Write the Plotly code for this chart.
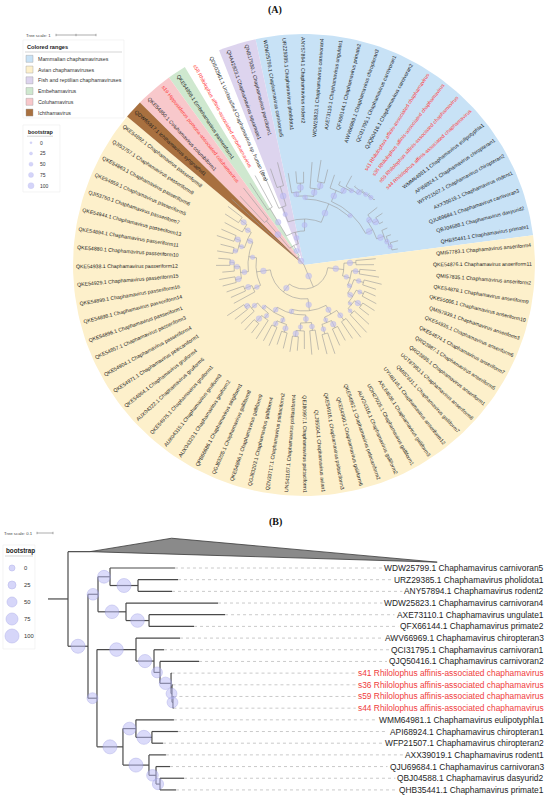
import numpy as np
import plotly.graph_objects as go

W, H = 550, 801
FONT = "Liberation Sans, Arial, sans-serif"

# ---------------- panel A tips, clockwise from the first avian tip ----------------
avian = [
    "QMI57783.1 Chaphamavirus anseriform4", "QKE54876.1 Chaphamavirus anseriform11",
    "QMI57835.1 Chaphamavirus anseriform2", "QKE54878.1 Chaphamavirus anseriform9",
    "QKE55006.1 Chaphamavirus anseriform10", "QMI57839.1 Chaphamavirus anseriform3",
    "QKE54935.1 Chaphamavirus anseriform6", "QKE54874.1 Chaphamavirus anseriform7",
    "QRI23887.1 Chaphamavirus anseriform5", "QRI23885.1 Chaphamavirus anseriform1",
    "UGT87963.1 Chaphamavirus anseriform8", "QMI57831.1 Chaphamavirus galliform7",
    "UYI48146.1 Chaphamavirus anseriform12", "AXL64606.1 Chaphamavirus galliform3",
    "UOH27026.1 Chaphamavirus galliform1", "AUV24316.1 Chaphamavirus galliform2",
    "QKE54962.1 Chaphamavirus pelecaniform2", "QKE54900.1 Chaphamavirus galliform6",
    "QKE54916.1 Chaphamavirus psittaciform3", "QLJ85504.1 Chaphamavirus avian1",
    "QEJ80997.1 Chaphamavirus psittaciform1", "UNS41167.1 Chaphamavirus psittaciform4",
    "QZN33717.1 Chaphamavirus psittaciform2", "QGJ83203.1 Chaphamavirus galliform4",
    "QKE54866.1 Chaphamavirus galliform9", "QGJ83205.1 Chaphamavirus galliform8",
    "QPB66686.1 Chaphamavirus strigiform1", "AUX04320.1 Chaphamavirus gruiform2",
    "AUX04315.1 Chaphamavirus gruiform3", "QKE54975.1 Chaphamavirus gruiform1",
    "AUX04322.1 Chaphamavirus gruiform6", "QKE54864.1 Chaphamavirus gruiform4",
    "QKE54971.1 Chaphamavirus pelecaniform1", "QKE54904.1 Chaphamavirus passeriform4",
    "QKE54857.1 Chaphamavirus passeriform3", "QKE54896.1 Chaphamavirus passeriform1",
    "QKE54898.1 Chaphamavirus passeriform14", "QKE54899.1 Chaphamavirus passeriform16",
    "QKE54929.1 Chaphamavirus passeriform15", "QKE54938.1 Chaphamavirus passeriform12",
    "QKE54880.1 Chaphamavirus passeriform10", "QKE54894.1 Chaphamavirus passeriform11",
    "QKE54944.1 Chaphamavirus passeriform13", "QJI53750.1 Chaphamavirus passeriform7",
    "QKE54859.1 Chaphamavirus passeriform5", "QKE54863.1 Chaphamavirus passeriform6",
    "QJI53757.1 Chaphamavirus passeriform9", "QKE54892.1 Chaphamavirus passeriform8",
]
ichthama = ["QDW65917.1 Ichthamavirus syngnathid1"]
coluhama = ["QKE54850.1 Coluhamavirus columbiform1",
            "s19 Hipposideros pomona-associated coluhamavirus"]
embehama = ["QKE54958.1 Embehamavirus passeriform1"]
unclassified = ["s58 Rhilolophus affinis-associated embehamavirus",
                "QDS02961.1 Unclassified Chaphamavirus sp. human (Bra)"]
fish_reptile = ["QHA42923.1 Chaphamavirus squamate1",
                "QNB17930.1 Chaphamavirus perciform1"]
mammal = [
    "WDW25799.1 Chaphamavirus carnivoran5", "URZ29385.1 Chaphamavirus pholidota1",
    "ANY57894.1 Chaphamavirus rodent2", "WDW25823.1 Chaphamavirus carnivoran4",
    "AXE73110.1 Chaphamavirus ungulate1", "QFX66144.1 Chaphamavirus primate2",
    "AWV66969.1 Chaphamavirus chiropteran3", "QCI31795.1 Chaphamavirus carnivoran1",
    "QJQ50416.1 Chaphamavirus carnivoran2",
    "s41 Rhilolophus affinis-associated chaphamavirus",
    "s36 Rhilolophus affinis-associated chaphamavirus",
    "s59 Rhilolophus affinis-associated chaphamavirus",
    "s44 Rhilolophus affinis-associated chaphamavirus",
    "WMM64981.1 Chaphamavirus eulipotyphla1", "API68924.1 Chaphamavirus chiropteran1",
    "WFP21507.1 Chaphamavirus chiropteran2", "AXX39019.1 Chaphamavirus rodent1",
    "QJU69684.1 Chaphamavirus carnivoran3", "QBJ04588.1 Chaphamavirus dasyurid2",
    "QHB35441.1 Chaphamavirus primate1",
]
new_seqs = [s for s in mammal + coluhama + unclassified if s.startswith("s")]

range_names = ["Mammalian chaphamaviruses", "Avian chaphamaviruses",
               "Fish and reptilian chaphamaviruses", "Embehamavirus",
               "Coluhamavirus", "Ichthamavirus"]
range_colors = ["#c8e2f6", "#fdf0cb", "#ddd4ee", "#cfe8cf", "#f8c8cb", "#a8703f"]
range_members = [mammal, avian, fish_reptile, embehama, coluhama, ichthama]
bootstrap_legend = [0, 25, 50, 75, 100]

# tree A: tips are indexes into tips_a, node labels are bootstrap values
ANSER = ("((0:0.5,1:0.45)90:0.3,((2:0.4,3:0.5)80:0.2,((4:0.45,5:0.35)70:0.25,((6:0.3,7:0.4)60:0.2,"
         "((8:0.35,9:0.3)90:0.2,(10:0.5,11:0.6)50:0.15)40:0.1)80:0.15)60:0.1)70:0.2)95:0.4")
GALLI = ("(((12:0.6,13:0.5)80:0.3,((14:0.4,15:0.45)90:0.2,(16:0.55,17:0.5)70:0.25)60:0.15)85:0.25,"
         "(((18:0.5,19:0.6)75:0.2,(20:0.45,(21:0.35,22:0.4)90:0.15)60:0.2)80:0.2,"
         "(((23:0.4,24:0.35)85:0.2,(25:0.5,26:0.45)70:0.15)65:0.15,"
         "((27:0.55,(28:0.3,29:0.35)95:0.2)60:0.15,(30:0.45,(31:0.4,32:0.5)80:0.1)70:0.2)55:0.1)75:0.15)70:0.1)90:0.3")
PASSER = ("((33:0.6,(34:0.4,35:0.45)85:0.2)70:0.2,(((36:0.35,37:0.4)90:0.15,(38:0.3,(39:0.35,40:0.3)80:0.1)75:0.15)80:0.2,"
          "(((41:0.4,42:0.35)70:0.1,(43:0.45,44:0.4)85:0.15)60:0.15,(45:0.5,(46:0.4,47:0.45)90:0.2)75:0.2)80:0.15)65:0.2)95:0.35")
MAMMAL_A = ("(((56:0.5,(57:0.3,58:0.28)100:0.22)85:0.1,(59:0.65,(60:0.55,61:0.35)95:0.18)95:0.2)70:0.08,"
            "((62:0.35,(63:0.1,(64:0.3,(65:0.03,(66:0.03,(67:0.03,68:0.03)60:0.03)60:0.03)80:0.1)60:0.05)90:0.15)95:0.3,"
            "((69:0.3,(70:0.2,71:0.1)100:0.12)85:0.1,(72:0.15,(73:0.12,(74:0.2,75:0.15)65:0.05)70:0.05)100:0.2)100:0.2)60:0.08)100:0.5")
OTHERS = ("(48:2.2,((49:0.9,50:1.0)100:0.9,((51:0.8,52:0.9)90:0.8,((53:1.0,(54:0.5,55:0.6)100:0.5)60:0.4,"
          + MAMMAL_A + ")80:0.3)70:0.3)85:0.3)100:0.25")
TREE_A = "((" + ANSER + ",(" + GALLI + "," + PASSER + ")90:0.25)100:0.6," + OTHERS + ");"

# tree B: mammalian clade, C = collapsed remainder of the tree
TREE_B = ("(C:0.1375,((((0:0.406,(1:0.25,2:0.2125)100:0.175)85:0.075,"
          "(3:0.575,(4:0.475,5:0.281)95:0.144)95:0.175)70:0.0625,"
          "((6:0.275,(7:0.0625,(8:0.244,(9:0.003,(10:0.003,(11:0.003,12:0.003)60:0.006)60:0.006)80:0.069)60:0.0375)90:0.1125)95:0.244,"
          "((13:0.2375,(14:0.1625,15:0.069)100:0.1)85:0.081,"
          "(16:0.106,(17:0.0875,(18:0.15,19:0.1)65:0.025)70:0.044)100:0.1625)100:0.1625)60:0.056)100:0.125)):0.125;")
collapsed = {"y": -1.4, "near": 0.51, "far": 2.17, "top": -2.55, "bottom": -0.5}

tips_a = avian + ichthama + coluhama + embehama + unclassified + fish_reptile + mammal


# ---------------- helpers ----------------
def parse_newick(text):
    s = text.replace(" ", "").rstrip(";")
    pos = 0

    def token():
        nonlocal pos
        start = pos
        while pos < len(s) and s[pos] not in "(),:":
            pos += 1
        return s[start:pos]

    def node():
        nonlocal pos
        n = {"children": [], "name": None, "support": None, "length": 0.0}
        if s[pos] == "(":
            pos += 1
            n["children"].append(node())
            while s[pos] == ",":
                pos += 1
                n["children"].append(node())
            pos += 1
            lab = token()
            if lab:
                n["support"] = float(lab)
        else:
            n["name"] = token()
        if pos < len(s) and s[pos] == ":":
            pos += 1
            n["length"] = float(token())
        return n

    return node()


def place(n, depth, tip_pos):
    n["px"] = depth
    n["x"] = depth + n["length"]
    if n["children"]:
        for c in n["children"]:
            place(c, n["x"], tip_pos)
        n["y"] = (n["children"][0]["y"] + n["children"][-1]["y"]) / 2
    else:
        n["y"] = tip_pos(n["name"])


def walk(n):
    yield n
    for c in n["children"]:
        yield from walk(c)


ARIAL = dict(zip("abcdefghijklmnopqrstuvwxyz",
                 [556, 556, 500, 556, 556, 278, 556, 556, 222, 222, 500, 222, 833,
                  556, 556, 556, 556, 333, 500, 278, 556, 500, 722, 500, 500, 500]))
ARIAL.update(dict(zip("ABCDEFGHIJKLMNOPQRSTUVWXYZ",
                      [667, 667, 722, 722, 667, 611, 778, 722, 278, 500, 667, 556, 833,
                       722, 778, 667, 778, 722, 667, 611, 722, 667, 944, 667, 667, 611])))
ARIAL.update({" ": 278, ".": 278, "-": 333, "(": 333, ")": 333})


def text_px(s, size):
    return sum(ARIAL.get(ch, 556) for ch in s) / 1000 * size


def arc(r, t0, t1):
    t = np.radians(np.linspace(t0, t1, int(abs(t1 - t0) / 1.5) + 2))
    return list(r * np.cos(t)), list(r * np.sin(t))


# ---------------- geometry of the page ----------------
DIV = 500                       # pixel row between panels
CX, CY, PX_A = 304, 265, 40     # circle centre, px per tree unit in A
R_RANGE, R_TXT = 231, 228
STEP = 360 / len(tips_a)
START = 5.0
BX0, PX_B = 48, 160             # root of B, px per tree unit in B
BY0, ROW_B = 568, 11.68
LAB_B = 546
FS_A, FS_B = 5.2, 8.4

fig = go.Figure()

# ---------------- panel A ----------------
def theta(i):
    return START - i * STEP

for name, col, members in zip(range_names, range_colors, range_members):
    i0 = tips_a.index(members[0])
    i1 = i0 + len(members) - 1
    ax_, ay_ = arc(R_RANGE / PX_A, theta(i0) + STEP / 2, theta(i1) - STEP / 2)
    fig.add_trace(go.Scatter(x=[0] + ax_ + [0], y=[0] + ay_ + [0], fill="toself",
                             fillcolor=col, mode="lines", line=dict(width=0),
                             hoverinfo="skip", xaxis="x", yaxis="y"))

root_a = parse_newick(TREE_A)
place(root_a, 0.0, lambda nm: theta(int(nm)))
bx_, by_ = [], []
cx_, cy_, cs_ = [], [], []
for n in walk(root_a):
    t = np.radians(n["y"])
    if n is not root_a:
        bx_ += [n["px"] * np.cos(t), n["x"] * np.cos(t), None]
        by_ += [n["px"] * np.sin(t), n["x"] * np.sin(t), None]
    if n["children"]:
        ax_, ay_ = arc(n["x"], n["children"][0]["y"], n["children"][-1]["y"])
        bx_ += ax_ + [None]
        by_ += ay_ + [None]
        if n["support"] is not None and n is not root_a:
            rm = (n["px"] + n["x"]) / 2
            cx_.append(rm * np.cos(t))
            cy_.append(rm * np.sin(t))
            cs_.append(2 + 4 * n["support"] / 100)
fig.add_trace(go.Scatter(x=bx_, y=by_, mode="lines", line=dict(color="#9a9a9a", width=0.6),
                         hoverinfo="skip", xaxis="x", yaxis="y"))
fig.add_trace(go.Scatter(x=cx_, y=cy_, mode="markers", hoverinfo="skip", xaxis="x", yaxis="y",
                         marker=dict(size=cs_, color="rgba(188,188,246,0.85)",
                                     line=dict(color="rgba(160,160,235,1)", width=0.3))))

notes = []
for i, lab in enumerate(tips_a):
    th = (theta(i) + 180) % 360 - 180
    rc = (R_TXT - text_px(lab, FS_A) / 2) / PX_A
    if -90 < th <= 90:
        ang = -th
    elif th > 90:
        ang = 180 - th
    else:
        ang = -180 - th
    notes.append(dict(x=rc * np.cos(np.radians(th)), y=rc * np.sin(np.radians(th)),
                      xref="x", yref="y", text=lab, textangle=ang, showarrow=False,
                      xanchor="center", yanchor="middle", borderpad=0,
                      font=dict(size=FS_A, family=FONT,
                                color="#ff3a3a" if lab in new_seqs else "#1e1e1e")))

# ---------------- panel B ----------------
root_b = parse_newick(TREE_B)
place(root_b, 0.0, lambda nm: collapsed["y"] if nm == "C" else float(nm))
lx, ly, sx, sy, ss = [], [], [], [], []
dx, dy = [], []
for n in walk(root_b):
    lx += [n["px"], n["x"], None]
    ly += [n["y"], n["y"], None]
    if n["children"]:
        lx += [n["x"], n["x"], None]
        ly += [n["children"][0]["y"], n["children"][-1]["y"], None]
        if n["support"] is not None:
            sx.append((n["px"] + n["x"]) / 2)
            sy.append(n["y"])
            ss.append(6 + 8 * n["support"] / 100)
    elif n["name"] == "C":
        c = collapsed
        fig.add_trace(go.Scatter(
            x=[n["x"], n["x"] + c["near"], n["x"] + c["far"], n["x"]],
            y=[n["y"], c["top"], c["bottom"], n["y"]], fill="toself", fillcolor="#8a8a8a",
            mode="lines", line=dict(color="#3a3a3a", width=0.8), hoverinfo="skip",
            xaxis="x2", yaxis="y2"))
    else:
        lab = mammal[int(n["name"])]
        end = (LAB_B - text_px(lab, FS_B) - 4 - BX0) / PX_B
        dx += [n["x"], end, None]
        dy += [n["y"], n["y"], None]
        notes.append(dict(x=(LAB_B - BX0) / PX_B, y=n["y"], xref="x2", yref="y2", text=lab,
                          showarrow=False, xanchor="right", yanchor="middle",
                          font=dict(size=FS_B, family=FONT,
                                    color="#f03c3c" if lab in new_seqs else "#1e1e1e")))
fig.add_trace(go.Scatter(x=dx, y=dy, mode="lines", hoverinfo="skip", xaxis="x2", yaxis="y2",
                         line=dict(color="#bdbdbd", width=0.8, dash="dot")))
fig.add_trace(go.Scatter(x=lx, y=ly, mode="lines", hoverinfo="skip", xaxis="x2", yaxis="y2",
                         line=dict(color="#4a4a4a", width=1.2)))
fig.add_trace(go.Scatter(x=sx, y=sy, mode="markers", hoverinfo="skip", xaxis="x2", yaxis="y2",
                         marker=dict(size=ss, color="rgba(188,188,246,0.75)",
                                     line=dict(color="rgba(150,150,228,0.9)", width=0.6))))

# ---------------- legends (pixel overlay) ----------------
def note(x, y, text, size, color="#222", anchor="left", family=FONT):
    notes.append(dict(x=x, y=y, xref="x3", yref="y3", text=text, showarrow=False,
                      xanchor=anchor, yanchor="middle", borderpad=0,
                      font=dict(size=size, color=color, family=family)))

shapes = []
def seg(x0, y0, x1, y1, color, width=0.7):
    shapes.append(dict(type="line", xref="x3", yref="y3", x0=x0, y0=y0, x1=x1, y1=y1,
                       line=dict(color=color, width=width)))

def box(x0, y0, x1, y1):
    shapes.append(dict(type="rect", xref="x3", yref="y3", x0=x0, y0=y0, x1=x1, y1=y1,
                       line=dict(color="#ececec", width=0.6)))

# A: tree scale
note(25, 35, "Tree scale: 1", 4.3, "#444")
seg(56, 35, 56 + PX_A, 35, "#777", 0.6)
for xt in (56, 56 + PX_A / 2, 56 + PX_A):
    seg(xt, 33.8, xt, 36.2, "#777", 0.6)
# A: colored ranges
box(23, 40, 124, 118)
note(26, 47, "<b>Colored ranges</b>", 5.6)
seg(25, 52, 122, 52, "#bbbbbb", 0.6)
ry = [58.8 + 10.75 * i for i in range(len(range_names))]
fig.add_trace(go.Scatter(x=[29.5] * len(ry), y=ry, mode="markers", hoverinfo="skip",
                         xaxis="x3", yaxis="y3",
                         marker=dict(symbol="square", size=7, color=range_colors,
                                     line=dict(color="#9a9a9a", width=0.4))))
for yy, nm in zip(ry, range_names):
    note(36.5, yy, nm, 5.3, "#333")
# A: bootstrap
box(23, 125, 60, 192)
note(27, 132, "<b>bootstrap</b>", 5.4)
seg(27, 136.2, 53, 136.2, "#bbbbbb", 0.6)
ba = [142.7 + 10.75 * i for i in range(len(bootstrap_legend))]
fig.add_trace(go.Scatter(x=[31] * len(ba), y=ba, mode="markers", hoverinfo="skip",
                         xaxis="x3", yaxis="y3",
                         marker=dict(size=[2 + 4 * v / 100 for v in bootstrap_legend],
                                     color="rgba(188,188,246,0.9)",
                                     line=dict(color="rgba(160,160,235,1)", width=0.3))))
for yy, v in zip(ba, bootstrap_legend):
    note(38.5, yy, str(v), 5, "#333")

# B: tree scale + bootstrap
note(3, 533, "Tree scale: 0.1", 4.3, "#444")
seg(37, 533, 37 + PX_B * 0.1, 533, "#777", 0.6)
for xt in (37, 37 + PX_B * 0.1):
    seg(xt, 531.8, xt, 534.2, "#777", 0.6)
box(3, 545, 35, 649)
note(5, 551, "<b>bootstrap</b>", 6.3)
seg(5, 556, 33, 556, "#bbbbbb", 0.6)
bb = [568 + 17 * i for i in range(len(bootstrap_legend))]
fig.add_trace(go.Scatter(x=[12] * len(bb), y=bb, mode="markers", hoverinfo="skip",
                         xaxis="x3", yaxis="y3",
                         marker=dict(size=[6 + 8 * v / 100 for v in bootstrap_legend],
                                     color="rgba(188,188,246,0.85)",
                                     line=dict(color="rgba(150,150,228,0.9)", width=0.6))))
for yy, v in zip(bb, bootstrap_legend):
    note(22.5, yy, str(v), 5.8, "#333")

# panel letters
note(275, 9.5, "<b>(A)</b>", 10, "#111", "center", "Liberation Serif, Times New Roman, serif")
note(275, 522, "<b>(B)</b>", 10, "#111", "center", "Liberation Serif, Times New Roman, serif")

hidden = dict(visible=False, fixedrange=True)
split = 1 - DIV / H
fig.update_layout(
    width=W, height=H, margin=dict(l=0, r=0, t=0, b=0),
    paper_bgcolor="white", plot_bgcolor="rgba(0,0,0,0)", showlegend=False,
    xaxis=dict(domain=[0, 1], range=[(0 - CX) / PX_A, (W - CX) / PX_A], **hidden),
    yaxis=dict(domain=[split, 1], range=[(CY - DIV) / PX_A, CY / PX_A], **hidden),
    xaxis2=dict(domain=[0, 1], range=[(0 - BX0) / PX_B, (W - BX0) / PX_B], **hidden),
    yaxis2=dict(domain=[0, split], range=[(H - BY0) / ROW_B, (DIV - BY0) / ROW_B], **hidden),
    xaxis3=dict(domain=[0, 1], range=[0, W], **hidden),
    yaxis3=dict(domain=[0, 1], range=[H, 0], **hidden),
    annotations=notes, shapes=shapes,
)
# the page body has a default 8px margin that would push the figure off the window
fig.write_html("out.html", config={"displayModeBar": False},
               post_script="document.body.style.margin='0';")
